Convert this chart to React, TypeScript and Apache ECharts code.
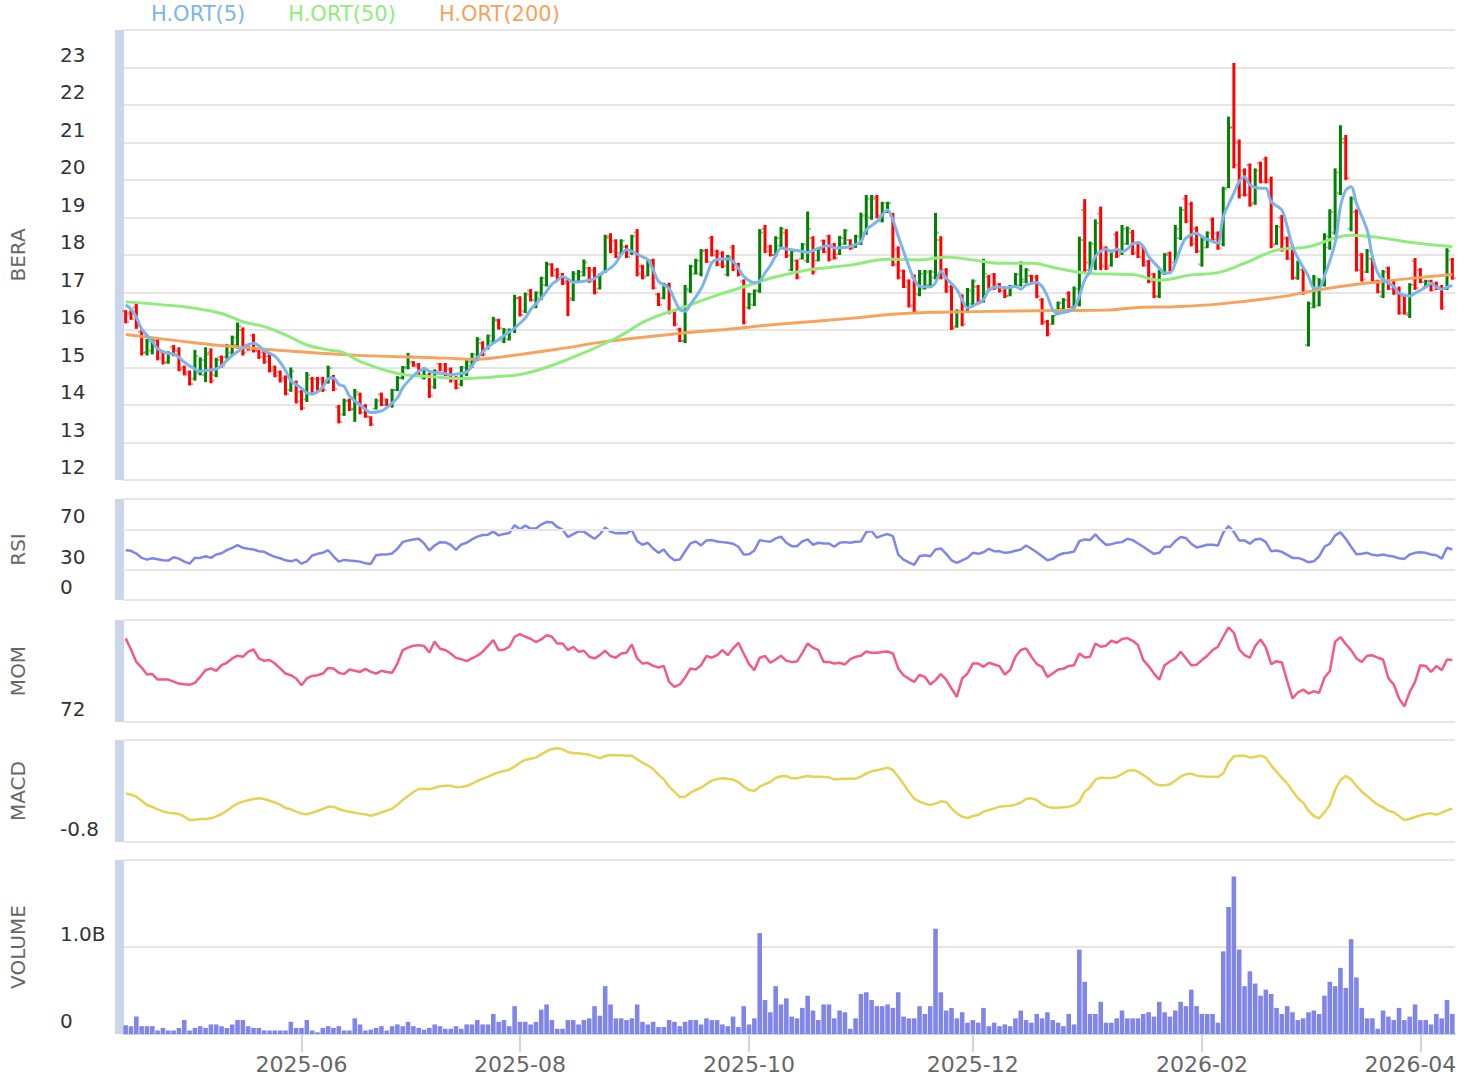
import React, { useEffect, useRef } from 'react';
import * as echarts from 'echarts';

const FONT = '"DejaVu Sans", Verdana, sans-serif';

// trading calendar (BIST), first and last session and closed days
const FIRST_DAY = '2025-04-11';
const LAST_DAY = '2026-04-09';
const CLOSED = ['2025-04-23', '2025-05-01', '2025-05-19', '2025-06-06', '2025-06-09', '2025-07-15', '2025-10-29', '2025-12-31', '2026-01-01', '2026-03-20'];

function tradingDays(): string[] {
  const out: string[] = [];
  const d = new Date(FIRST_DAY + 'T00:00:00Z');
  const end = new Date(LAST_DAY + 'T00:00:00Z');
  while (d <= end) {
    const wd = d.getUTCDay();
    const s = d.toISOString().slice(0, 10);
    if (wd !== 0 && wd !== 6 && CLOSED.indexOf(s) < 0) out.push(s);
    d.setUTCDate(d.getUTCDate() + 1);
  }
  return out;
}
const DATES = tradingDays();

const OPEN = [16.5,16.45,16.6,15.95,15.4,15.45,15.7,15.4,15.15,15.55,15.45,15.0,14.88,14.7,14.85,14.8,15.4,14.8,15.28,15.28,15.4,15.6,16.0,15.6,15.85,15.45,15.4,15.3,15.0,14.88,14.72,14.4,14.6,14.35,14.15,14.7,14.7,14.7,14.6,14.75,13.95,13.75,14.12,13.9,14.28,13.98,13.68,13.9,14.28,14.15,14.0,14.4,14.72,15.0,15.15,15.08,14.72,14.8,14.48,15.1,15.08,14.95,14.72,14.55,14.82,15.05,15.25,15.65,15.5,15.7,16.25,15.7,15.75,16.0,16.85,16.5,17.05,16.62,16.85,17.2,17.75,17.6,17.48,17.3,16.85,17.3,17.45,17.65,17.6,17.1,17.55,18.5,18.38,18.05,18.22,18.05,18.6,17.7,17.45,17.85,16.95,16.85,17.2,16.5,16.02,15.7,17.05,17.5,17.5,18.12,18.45,18.1,18.05,17.48,18.2,17.75,17.3,16.6,16.68,17.05,18.7,18.22,18.0,18.25,18.6,17.6,17.85,17.9,17.85,18.45,17.85,18.38,18.5,18.28,18.02,18.3,18.4,18.2,18.3,18.6,19.0,19.55,18.9,19.15,19.05,18.15,17.58,17.3,17.4,16.95,17.1,17.2,17.4,18.4,17.6,17.15,16.1,16.9,16.5,16.7,17.15,16.78,17.42,17.48,17.22,17.12,16.92,17.15,17.2,17.28,17.45,17.42,16.8,16.22,16.15,16.42,16.56,16.98,16.58,16.7,19.2,17.6,17.7,19.1,18.2,17.72,18.55,18.05,18.3,18.6,18.32,18.2,17.82,17.48,16.9,17.5,18.05,17.8,18.45,19.5,19.35,18.7,17.75,18.2,18.95,18.58,18.3,19.8,21.4,21.0,20.25,20.4,19.4,20.45,20.55,20.0,18.3,19.0,18.45,18.2,17.38,17.6,15.6,16.6,16.65,17.2,18.2,18.6,19.65,21.1,18.7,19.15,18.0,17.55,17.9,17.3,16.9,17.65,17.3,17.1,16.9,16.4,17.85,17.6,17.14,17.3,17.25,17.15,17.1,17.88];
const CLOSE = [16.22,16.3,16.1,15.4,15.7,15.72,15.25,15.12,15.38,15.35,14.95,14.82,14.56,15.3,15.2,15.35,14.65,15.2,15.05,15.58,15.8,16.1,15.4,15.47,15.45,15.28,15.15,14.92,14.78,14.65,14.3,14.9,14.1,13.92,14.8,14.3,14.4,14.4,14.98,14.42,13.55,14.1,13.88,14.35,13.8,13.7,13.48,14.12,14.0,14.0,14.4,14.72,15.0,15.3,15.05,14.8,14.95,14.25,14.9,14.92,14.8,14.65,14.45,15.0,15.15,15.35,15.75,15.35,15.85,16.28,16.05,16.0,16.0,16.85,16.4,16.95,16.8,17.0,17.38,17.75,17.45,17.38,17.25,16.8,17.5,17.55,17.8,17.3,17.0,17.48,18.45,18.1,17.95,18.38,17.95,18.5,17.5,17.4,17.85,17.12,16.68,17.2,16.48,16.15,15.72,17.1,17.7,17.85,18.1,17.82,18.0,17.75,17.7,17.95,17.62,17.48,16.2,16.95,17.05,18.6,18.1,18.0,18.45,18.7,17.98,18.1,17.4,18.28,18.7,17.55,18.15,18.08,17.88,17.92,18.45,18.65,18.17,18.5,19.05,19.5,19.5,19.05,19.38,19.38,17.75,17.4,17.15,16.65,16.5,17.5,17.55,17.55,18.6,17.4,17.05,16.05,16.5,16.15,17.05,17.3,16.72,17.5,17.08,17.12,17.05,16.9,17.15,17.48,17.35,17.6,17.28,16.9,16.2,15.9,16.38,16.72,16.8,16.62,17.1,18.4,17.8,18.3,18.85,17.7,17.65,18.1,17.98,18.7,18.7,18.05,17.95,17.72,17.3,16.9,17.55,18.0,17.6,18.7,19.2,18.9,18.3,18.1,18.4,18.58,18.42,18.18,19.75,21.4,20.4,19.6,19.6,19.35,20.25,19.95,19.95,18.25,18.75,18.15,17.9,17.4,17.8,17.0,16.7,17.4,17.3,18.5,19.15,20.2,21.0,20.05,19.5,17.6,17.35,18.1,17.3,17.02,17.55,17.1,16.98,16.45,16.45,17.2,17.12,17.28,17.3,17.06,17.1,16.6,18.1,17.38];
const LOW = [16.18,16.27,16.03,15.32,15.32,15.35,15.19,15.08,15.1,15.3,14.9,14.79,14.52,14.65,14.79,14.61,14.58,14.74,15.0,15.23,15.32,15.5,15.32,15.45,15.4,15.23,15.1,14.87,14.74,14.6,14.26,14.35,14.04,13.86,14.08,14.26,14.35,14.35,14.57,14.37,13.51,13.71,13.84,13.55,13.75,13.66,13.44,13.88,13.97,13.97,13.93,14.37,14.68,14.95,15.02,14.77,14.68,14.19,14.43,14.9,14.77,14.6,14.42,14.5,14.77,14.99,15.17,15.3,15.48,15.65,16.01,15.65,15.72,15.92,16.36,16.45,16.76,16.58,16.8,17.16,17.42,17.34,17.2,16.37,16.77,17.26,17.43,17.26,16.95,17.08,17.52,18.05,17.92,18.0,17.92,18.0,17.43,17.35,17.43,17.08,16.64,16.82,16.42,16.1,15.68,15.65,16.99,17.48,17.43,17.79,17.96,17.7,17.65,17.43,17.57,17.43,16.15,16.55,16.64,16.99,18.05,17.96,17.95,18.2,17.92,17.57,17.35,17.88,17.79,17.48,17.83,18.05,17.83,17.88,18.0,18.27,18.14,18.19,18.27,18.54,18.94,18.98,18.87,19.12,17.7,17.35,17.12,16.6,16.46,16.9,17.08,17.17,17.35,17.35,16.99,16.0,16.06,16.1,16.46,16.64,16.68,16.73,17.03,17.07,17.0,16.85,16.9,17.12,17.16,17.25,17.25,16.85,16.14,15.83,16.14,16.4,16.54,16.58,16.54,16.63,17.52,17.52,17.6,17.6,17.6,17.69,17.92,18.0,18.27,18.0,17.92,17.69,17.25,16.85,16.85,17.47,17.56,17.78,18.4,18.85,18.23,18.05,17.69,18.18,18.38,18.14,18.23,19.78,20.31,19.51,19.56,19.29,19.34,19.91,19.91,18.18,18.27,18.09,17.87,17.34,17.34,16.94,15.56,16.58,16.63,17.16,18.14,18.54,19.6,20.0,18.63,17.56,17.29,17.52,17.25,16.98,16.85,17.07,16.94,16.41,16.41,16.32,17.07,17.25,17.12,17.03,17.07,16.54,17.07,17.34];
const HIGH = [16.53,16.53,16.73,16.0,15.76,15.8,15.79,15.45,15.43,15.6,15.54,15.05,14.92,15.47,15.27,15.54,15.51,15.26,15.32,15.63,15.85,16.2,16.07,15.63,15.9,15.5,15.45,15.36,15.05,14.92,14.79,15.0,14.65,14.4,14.88,14.75,14.75,14.75,15.05,14.8,14.0,14.17,14.17,14.43,14.33,14.02,13.7,14.17,14.33,14.17,14.43,14.77,15.04,15.39,15.17,15.12,15.0,14.86,14.95,15.12,15.12,15.0,14.77,15.04,15.21,15.39,15.81,15.7,15.88,16.35,16.3,16.05,16.04,16.94,16.9,17.0,17.09,17.03,17.42,17.82,17.78,17.65,17.52,17.35,17.57,17.6,17.88,17.68,17.68,17.52,18.54,18.58,18.42,18.42,18.27,18.54,18.69,17.74,17.88,17.9,16.99,17.26,17.26,16.55,16.06,17.2,17.74,17.9,18.16,18.16,18.51,18.14,18.1,18.0,18.27,17.79,17.35,16.99,17.08,18.69,18.8,18.27,18.5,18.75,18.69,18.14,17.88,18.32,19.16,18.5,18.19,18.41,18.54,18.32,18.51,18.69,18.42,18.54,19.13,19.6,19.6,19.6,19.42,19.42,19.12,18.23,17.61,17.35,17.48,17.6,17.6,17.6,19.12,18.5,17.65,17.2,16.55,16.95,17.12,17.35,17.2,17.9,17.47,17.52,17.25,17.16,17.2,17.52,17.83,17.65,17.47,17.47,16.85,16.27,16.4,16.76,16.85,17.03,17.16,18.49,19.49,18.36,18.95,19.29,18.23,18.14,18.63,18.8,18.76,18.67,18.36,18.23,17.87,17.52,17.6,18.05,18.09,18.8,19.29,19.6,19.42,18.76,18.49,18.63,19.0,18.63,19.82,21.69,23.12,21.08,20.31,20.44,20.31,20.49,20.62,20.09,18.8,19.07,18.49,18.27,17.85,17.65,16.76,17.47,17.38,18.58,19.22,20.31,21.46,21.2,19.56,19.22,18.05,18.16,17.96,17.34,17.6,17.69,17.34,17.16,16.94,17.25,17.92,17.65,17.34,17.34,17.29,17.2,18.18,17.92];

// moving averages: [session index, value]
const MA5 = [[0,16.67],[1,16.56],[2,16.34],[3,16.03],[5,15.7],[6,15.5],[8,15.37],[9,15.36],[10,15.27],[11,15.14],[13,14.96],[14,14.9],[15,14.92],[17,14.96],[18,15.05],[19,15.19],[20,15.32],[22,15.52],[23,15.61],[24,15.65],[25,15.58],[26,15.45],[28,15.3],[29,15.14],[30,14.92],[31,14.65],[33,14.45],[34,14.32],[35,14.3],[36,14.35],[37,14.48],[38,14.7],[39,14.72],[40,14.55],[41,14.5],[42,14.24],[44,14.0],[45,13.88],[46,13.8],[48,13.84],[49,13.93],[51,14.19],[52,14.46],[54,14.78],[55,14.9],[56,14.96],[57,14.9],[58,14.86],[60,14.84],[61,14.81],[63,14.84],[64,14.88],[65,15.04],[66,15.26],[68,15.55],[69,15.65],[70,15.74],[71,15.85],[73,16.05],[74,16.18],[75,16.32],[76,16.54],[78,16.85],[79,17.03],[80,17.22],[81,17.32],[82,17.43],[83,17.36],[84,17.27],[86,17.3],[88,17.37],[89,17.48],[91,17.65],[92,17.79],[93,18.01],[94,18.14],[95,18.1],[97,17.95],[98,17.88],[99,17.61],[100,17.3],[102,17.1],[103,16.81],[104,16.55],[105,16.5],[106,16.68],[108,17.1],[109,17.43],[110,17.79],[111,17.88],[113,17.9],[114,17.83],[115,17.65],[116,17.43],[118,17.26],[119,17.3],[120,17.52],[121,17.72],[122,17.98],[123,18.19],[124,18.16],[126,18.12],[128,18.07],[129,18.12],[131,18.23],[132,18.25],[133,18.19],[135,18.2],[136,18.23],[138,18.36],[139,18.67],[141,18.89],[142,19.07],[143,19.2],[144,18.94],[145,18.5],[146,18.1],[147,17.7],[148,17.35],[149,17.17],[151,17.15],[152,17.26],[153,17.57],[154,17.39],[156,17.08],[157,16.81],[158,16.59],[159,16.64],[161,16.81],[162,17.08],[163,17.14],[164,17.15],[165,17.12],[167,17.16],[168,17.09],[169,17.2],[171,17.27],[172,17.16],[173,16.9],[174,16.54],[175,16.45],[177,16.5],[178,16.58],[179,16.9],[180,17.34],[181,17.56],[182,17.96],[184,18.16],[185,18.09],[186,18.16],[187,18.09],[188,18.16],[189,18.3],[190,18.33],[191,18.23],[192,17.96],[194,17.65],[195,17.52],[196,17.52],[197,17.78],[198,18.18],[199,18.45],[201,18.58],[202,18.49],[204,18.36],[205,18.32],[206,19.02],[208,19.65],[209,19.96],[210,20.09],[211,19.87],[213,19.78],[214,19.78],[215,19.42],[217,19.2],[218,18.76],[219,18.23],[220,17.92],[222,17.43],[223,17.12],[224,17.12],[225,17.43],[227,18.32],[228,19.29],[229,19.73],[230,19.82],[231,19.38],[233,18.67],[234,17.96],[235,17.52],[236,17.34],[238,17.16],[239,16.98],[241,16.91],[242,16.98],[244,17.14],[245,17.25],[246,17.14],[247,17.09],[248,17.14],[249,17.19]];
const MA50 = [[0,16.75],[7,16.67],[13,16.58],[18,16.44],[22,16.22],[26,16.09],[30,15.87],[34,15.6],[38,15.47],[41,15.39],[44,15.16],[51,14.84],[57,14.76],[63,14.71],[70,14.76],[75,14.84],[82,15.16],[92,15.78],[98,16.27],[105,16.62],[111,16.93],[118,17.24],[121,17.38],[128,17.6],[136,17.73],[143,17.89],[149,17.87],[154,17.94],[159,17.87],[164,17.78],[170,17.78],[175,17.64],[181,17.51],[189,17.48],[194,17.33],[200,17.47],[205,17.53],[210,17.78],[216,18.13],[222,18.22],[230,18.53],[235,18.47],[241,18.34],[249,18.22]];
const MA200 = [[0,15.88],[10,15.71],[20,15.56],[40,15.35],[60,15.25],[66,15.22],[71,15.29],[82,15.51],[90,15.69],[104,15.91],[113,16.02],[123,16.16],[136,16.31],[146,16.44],[159,16.49],[175,16.52],[184,16.53],[190,16.6],[197,16.62],[205,16.69],[217,16.89],[223,17.05],[230,17.2],[238,17.33],[246,17.44],[249,17.48]];

const RSI = [49.3,48.7,46,41.7,40,41.3,40.3,39.3,39,42.3,41,38,36,41.7,41.7,43.3,41.7,45,46.3,49.3,51.7,54.3,51.7,50.7,50,48.3,47.7,45,42.7,41.3,39.3,38.3,40,36,38.3,44,45.7,46.7,49.3,43.3,38,39.7,39,38.7,38,36.3,35.7,44.3,45,45,46,50.7,57.3,59,60,60.7,56,49,54,57.3,57,54.7,49.7,55,56.7,60,62.7,64.3,64.7,67.7,64,65.3,66.3,74,70,73.7,70.7,70.7,74.7,77.3,77,72.3,69.7,62.3,65.3,68,67.7,64,60.7,65,71.7,67.7,66,66.3,66,69.3,58.3,54.7,56.7,51,46.7,50,43.3,39.3,40,48.3,56,58,54,59,59.3,58,57.3,56.7,55.7,52.7,45,45.3,49,59.3,58.3,57.7,61,62.7,56.7,53.3,53.3,58,60,54.7,56.7,56,56,52.7,56.7,57.3,56.7,57.7,58,67.3,68.3,61.7,63.7,65.3,63.3,45,40,37.3,34.7,43.3,44.3,43.3,50,51,45.7,39.3,36.7,39.3,41.7,46.7,45.7,47.3,50.7,48.3,48.3,46.7,47.3,48.7,50,54,50.7,47.3,43.3,39.3,40.7,44.3,46.3,46.7,48,58.3,60,59.3,65,59.3,54.7,55.3,56.7,57.3,60.7,59.3,56,52.7,49,45.7,46.7,52.7,52.7,58.3,62.3,61.3,55.7,52,53.3,54.7,54.7,54,66.7,73.3,67.3,59,59,55.7,60,60.7,57.3,48.3,49,47.7,44.7,41.7,41.7,40,37.3,38.3,43.3,52.7,55.7,64,67,60.7,52.7,45.3,45.7,46.7,44.7,44,45,43.7,43,41.3,40.7,45,46.7,47.3,46.7,45,44.3,41,51.7,50];
const MOM = [117.9,111.8,105,101.9,98.1,98.3,95.3,95.3,95.3,94.2,93.1,92.7,92.4,93.5,96.8,100.5,101.4,100.1,103.2,104.5,106.9,108.4,107.8,110.6,111.8,106.9,105.6,106,104.1,101.4,98.6,97.7,95.9,92.2,95.9,97.3,97.7,98.6,101.7,101.4,99,98.3,100.8,100.1,99.5,101.2,99.5,98.6,100.1,99.5,99,104.1,111.5,112.8,113.9,114.2,113.7,110.2,116.1,112.2,111.5,109.6,107.2,106.5,105.4,106.9,108.4,110.6,113.7,117,111.5,111.7,113.3,118.8,120.3,118.8,117.7,115.9,117.3,119.6,118.8,115.1,115.1,111.5,113.3,110.6,111.1,107.8,106.9,108.7,111.1,108.2,107.3,109.6,110,114.6,106.9,104.1,104.5,102.8,101.9,102.8,94,91.3,92.6,96.4,101.4,100.8,103.2,108.2,107.3,108.7,111.5,108.7,112.4,115.5,109.6,103.8,100.5,107.3,108.2,104.5,106.3,108.4,105.6,105,105.2,110,115.1,112.8,111.5,105,105,104.1,104.5,103.6,106.5,107.8,108.4,110.7,110,110,110.4,110.7,109.6,101.4,97.7,95.7,94,97.9,96.8,92.6,95,98.3,95.3,90.4,85.8,95.9,98.6,104.1,104.1,102.3,104.5,103.6,102.7,98.1,100.5,107.8,111.5,112.4,107.8,103.8,102.3,96.8,98.6,100.8,101.2,102.8,103.2,109.6,107.4,107.8,115.1,113.3,113.9,116.6,115.5,117.5,118.1,116.6,114.2,106,102.7,98.6,95.3,103.2,105.2,106.9,110.6,107,103.2,103.4,106,108.4,111.5,113.3,118.8,124,121,111.8,108.7,107.3,113.7,117.3,112.9,103.8,105.4,104.7,94.6,84.9,88.2,89.8,87.6,88.9,88,96.4,99.9,116.1,118.6,114.8,111.5,106.9,105,108.4,108.6,107.3,106.3,95.9,92.7,84.9,80.6,88.5,94,103.2,102.8,99.5,102.7,100.5,106.3,106];
const MACD = [0.154,0.128,0.089,0.01,-0.074,-0.114,-0.159,-0.199,-0.225,-0.238,-0.251,-0.303,-0.369,-0.362,-0.349,-0.349,-0.336,-0.297,-0.251,-0.186,-0.107,-0.048,-0.009,0.017,0.043,0.056,0.043,0.01,-0.022,-0.068,-0.133,-0.159,-0.205,-0.244,-0.257,-0.225,-0.192,-0.153,-0.107,-0.107,-0.153,-0.186,-0.205,-0.225,-0.244,-0.257,-0.284,-0.257,-0.218,-0.186,-0.146,-0.068,0.024,0.102,0.18,0.239,0.246,0.233,0.265,0.292,0.305,0.305,0.272,0.278,0.298,0.344,0.396,0.442,0.481,0.527,0.566,0.592,0.618,0.677,0.756,0.808,0.834,0.854,0.919,0.978,1.024,1.037,1.017,0.965,0.939,0.939,0.926,0.913,0.873,0.841,0.887,0.906,0.9,0.9,0.893,0.893,0.821,0.756,0.703,0.631,0.52,0.429,0.285,0.187,0.082,0.089,0.167,0.22,0.265,0.337,0.403,0.435,0.448,0.442,0.422,0.376,0.285,0.22,0.2,0.285,0.337,0.376,0.455,0.488,0.494,0.448,0.448,0.475,0.494,0.481,0.481,0.475,0.468,0.429,0.435,0.442,0.442,0.442,0.481,0.546,0.586,0.605,0.631,0.658,0.612,0.481,0.337,0.187,0.05,-0.009,-0.048,-0.074,-0.048,-0.003,-0.016,-0.14,-0.238,-0.303,-0.329,-0.29,-0.271,-0.205,-0.173,-0.146,-0.107,-0.094,-0.088,-0.068,-0.029,0.043,0.056,0.024,-0.061,-0.107,-0.127,-0.127,-0.12,-0.107,-0.081,-0.009,0.187,0.272,0.422,0.461,0.455,0.455,0.475,0.533,0.592,0.612,0.579,0.514,0.442,0.35,0.311,0.311,0.331,0.403,0.481,0.527,0.54,0.501,0.488,0.481,0.481,0.475,0.546,0.756,0.88,0.893,0.893,0.854,0.873,0.893,0.854,0.703,0.579,0.455,0.35,0.2,0.063,-0.029,-0.186,-0.29,-0.336,-0.218,-0.074,0.22,0.416,0.494,0.429,0.298,0.187,0.102,0.01,-0.068,-0.12,-0.186,-0.218,-0.29,-0.369,-0.349,-0.31,-0.277,-0.251,-0.238,-0.264,-0.225,-0.179,-0.14];
// volume in billions of shares
const VOLUME = [0.10,0.09,0.20,0.09,0.09,0.09,0.04,0.07,0.04,0.04,0.07,0.16,0.04,0.07,0.09,0.07,0.11,0.11,0.09,0.07,0.11,0.16,0.16,0.09,0.07,0.07,0.04,0.04,0.04,0.04,0.04,0.14,0.07,0.07,0.16,0.04,0.02,0.07,0.09,0.07,0.09,0.04,0.04,0.18,0.11,0.04,0.05,0.07,0.09,0.04,0.09,0.11,0.09,0.14,0.09,0.07,0.05,0.07,0.11,0.09,0.06,0.06,0.09,0.06,0.11,0.11,0.16,0.11,0.11,0.23,0.14,0.16,0.09,0.32,0.14,0.14,0.11,0.14,0.28,0.34,0.16,0.06,0.06,0.16,0.16,0.11,0.16,0.18,0.32,0.21,0.55,0.34,0.18,0.18,0.16,0.18,0.34,0.14,0.11,0.14,0.08,0.08,0.16,0.14,0.09,0.14,0.16,0.16,0.11,0.18,0.16,0.16,0.11,0.09,0.20,0.08,0.32,0.11,0.18,1.16,0.39,0.25,0.55,0.34,0.41,0.20,0.18,0.30,0.44,0.27,0.16,0.34,0.34,0.18,0.27,0.25,0.06,0.18,0.46,0.48,0.39,0.32,0.32,0.34,0.30,0.48,0.20,0.18,0.18,0.32,0.23,0.32,1.21,0.48,0.27,0.30,0.18,0.25,0.13,0.16,0.13,0.30,0.09,0.13,0.09,0.11,0.09,0.18,0.27,0.16,0.13,0.23,0.18,0.25,0.16,0.13,0.09,0.23,0.11,0.97,0.60,0.23,0.23,0.37,0.13,0.13,0.18,0.27,0.18,0.18,0.18,0.23,0.25,0.20,0.37,0.25,0.20,0.27,0.37,0.32,0.51,0.32,0.23,0.23,0.23,0.13,0.95,1.46,1.81,0.97,0.55,0.72,0.58,0.44,0.51,0.46,0.30,0.23,0.32,0.25,0.16,0.18,0.25,0.27,0.23,0.44,0.60,0.55,0.76,0.53,1.09,0.65,0.30,0.18,0.18,0.06,0.27,0.20,0.16,0.30,0.16,0.20,0.34,0.16,0.16,0.11,0.23,0.18,0.39,0.23];

const RSI_LINES = [0, 30, 70, 100];
const MOM_LINES = [72, 128];
const MACD_LINES = [-0.8, 1.2];

const GRID_LEFT = 123;
const GRID_RIGHT = 16;
const GRIDS = [
  { top: 30, height: 450 },
  { top: 499, height: 101 },
  { top: 620, height: 102 },
  { top: 740, height: 102 },
  { top: 860, height: 174 },
];

function isTick(index: number): boolean {
  if (index <= 0) return false;
  const m = DATES[index].slice(5, 7);
  const pm = DATES[index - 1].slice(5, 7);
  return m !== pm && parseInt(m, 10) % 2 === 0;
}

function buildOption(): any {
  const grid = GRIDS.map((g) => ({ left: GRID_LEFT, right: GRID_RIGHT, top: g.top, height: g.height }));
  const xAxis = GRIDS.map((_, k) => ({
    type: 'category',
    gridIndex: k,
    data: DATES,
    boundaryGap: true,
    axisLine: { show: k === 4, lineStyle: { color: '#ccd6eb', width: 2 } },
    axisTick: { show: k === 4, interval: (i: number) => isTick(i), alignWithLabel: true, length: 18, lineStyle: { color: '#ccd6eb', width: 2 } },
    axisLabel: {
      show: k === 4,
      interval: (i: number) => isTick(i),
      margin: 19,
      color: '#666666',
      fontSize: 22,
      fontFamily: FONT,
      formatter: (v: string) => (v.slice(0, 7) === '2026-04' ? '{r|' + v.slice(0, 7) + '}' : v.slice(0, 7)),
      rich: { r: { fontSize: 22, fontFamily: FONT, color: '#666666', padding: [0, 20, 0, 0] } },
    },
    splitLine: { show: false },
  }));
  const yBase = (k: number, name: string) => ({
    type: 'value',
    gridIndex: k,
    position: 'left',
    offset: 4,
    name,
    nameLocation: 'middle',
    nameRotate: 90,
    nameGap: 91,
    nameTextStyle: { color: '#666666', fontSize: 20, fontFamily: FONT },
    axisLine: { show: true, onZero: false, lineStyle: { color: '#ccd6eb', width: 9, cap: 'butt' } },
    axisTick: { show: false },
    axisLabel: { align: 'left', margin: 59, verticalAlign: 'bottom', color: '#333333', fontSize: 20, fontFamily: FONT, showMaxLabel: false, padding: [0, 0, 3, 0] },
  });
  const yAxis = [
    { ...yBase(0, 'BERA'), min: 12, max: 24, interval: 1, splitLine: { show: true, lineStyle: { color: '#e6e6e6', width: 2 } } },
    { ...yBase(1, 'RSI'), min: 0, max: 100, interval: 10, splitLine: { show: false },
      axisLabel: { ...yBase(1, '').axisLabel, formatter: (v: number) => (v === 0 || v === 30 || v === 70 ? String(v) : '') } },
    { ...yBase(2, 'MOM'), min: 72, max: 128, interval: 8, splitLine: { show: false },
      axisLabel: { ...yBase(2, '').axisLabel, formatter: (v: number) => (Math.abs(v - 72) < 1e-6 ? '72' : '') } },
    { ...yBase(3, 'MACD'), min: -0.8, max: 1.2, interval: 0.4, splitLine: { show: false },
      axisLabel: { ...yBase(3, '').axisLabel, formatter: (v: number) => (Math.abs(v + 0.8) < 1e-6 ? '-0.8' : '') } },
    { ...yBase(4, 'VOLUME'), min: 0, max: 2, interval: 1, splitLine: { show: true, lineStyle: { color: '#e6e6e6', width: 2 } },
      axisLabel: { ...yBase(4, '').axisLabel, formatter: (v: number) => (v === 0 ? '0' : v === 1 ? '1.0B' : '') } },
  ];

  const frame = (k: number, vals: number[]) => ({
    type: 'line', xAxisIndex: k, yAxisIndex: k, data: [], silent: true, z: 1,
    markLine: { symbol: ['none', 'none'], silent: true, label: { show: false }, animation: false,
      lineStyle: { color: '#e6e6e6', width: 2, type: 'solid' }, data: vals.map((v) => ({ yAxis: v })) },
  });

  const ohlc = DATES.map((_, i) => [i, OPEN[i], CLOSE[i], LOW[i], HIGH[i]]);

  return {
    animation: false,
    backgroundColor: '#ffffff',
    textStyle: { fontFamily: FONT },
    legend: {
      top: 3, left: 145, padding: 0, itemGap: 37, itemWidth: 0, itemHeight: 0, selectedMode: false,
      textStyle: { fontSize: 21, fontFamily: FONT },
      data: [
        { name: 'H.ORT(5)', textStyle: { color: '#7cb5ec' } },
        { name: 'H.ORT(50)', textStyle: { color: '#90ed7d' } },
        { name: 'H.ORT(200)', textStyle: { color: '#f7a35c' } },
      ],
    },
    grid,
    xAxis,
    yAxis,
    series: [
      {
        type: 'custom', name: 'BERA', xAxisIndex: 0, yAxisIndex: 0, z: 2,
        data: ohlc,
        encode: { x: 0, y: [1, 2, 3, 4] },
        renderItem: (params: any, api: any) => {
          const x = api.value(0);
          const o = api.value(1), c = api.value(2), l = api.value(3), h = api.value(4);
          const pt = api.coord([x, h]);
          const pb = api.coord([x, l]);
          const po = api.coord([x, o]);
          const pc = api.coord([x, c]);
          const color = c >= o ? '#008000' : '#ff0000';
          const bw = 3;
          return {
            type: 'group',
            children: [
              { type: 'rect', shape: { x: pt[0] - bw / 2, y: pt[1], width: bw, height: Math.max(1, pb[1] - pt[1]) }, style: { fill: color } },
              { type: 'rect', shape: { x: pt[0] - bw / 2 - 2, y: po[1] - 1, width: 2, height: 2 }, style: { fill: color, opacity: 0.45 } },
              { type: 'rect', shape: { x: pt[0] + bw / 2, y: pc[1] - 1, width: 2, height: 2 }, style: { fill: color, opacity: 0.45 } },
            ],
          };
        },
      },
      { type: 'line', name: 'H.ORT(200)', xAxisIndex: 0, yAxisIndex: 0, z: 3, data: MA200, showSymbol: false, smooth: 0.4, color: '#f7a35c', lineStyle: { width: 3, color: '#f7a35c' } },
      { type: 'line', name: 'H.ORT(50)', xAxisIndex: 0, yAxisIndex: 0, z: 3, data: MA50, showSymbol: false, smooth: 0.4, color: '#90ed7d', lineStyle: { width: 3, color: '#90ed7d' } },
      { type: 'line', name: 'H.ORT(5)', xAxisIndex: 0, yAxisIndex: 0, z: 4, data: MA5, showSymbol: false, smooth: 0.3, color: '#7cb5ec', lineStyle: { width: 3, color: '#7cb5ec' } },
      frame(1, RSI_LINES),
      { type: 'line', name: 'RSI', xAxisIndex: 1, yAxisIndex: 1, z: 3, data: RSI, showSymbol: false, color: '#8085e9', lineStyle: { width: 2.5, color: '#8085e9' } },
      frame(2, MOM_LINES),
      { type: 'line', name: 'MOM', xAxisIndex: 2, yAxisIndex: 2, z: 3, data: MOM, showSymbol: false, color: '#f15c80', lineStyle: { width: 2.5, color: '#f15c80' } },
      frame(3, MACD_LINES),
      { type: 'line', name: 'MACD', xAxisIndex: 3, yAxisIndex: 3, z: 3, data: MACD, showSymbol: false, color: '#e4d354', lineStyle: { width: 2.5, color: '#e4d354' } },
      { type: 'bar', name: 'VOLUME', xAxisIndex: 4, yAxisIndex: 4, z: 3, data: VOLUME, barCategoryGap: '14%', itemStyle: { color: '#8085e9' } },
    ],
  };
}

export default function App() {
  const ref = useRef<HTMLDivElement>(null);
  useEffect(() => {
    if (!ref.current) return;
    const chart = echarts.init(ref.current, null, { renderer: 'svg' });
    chart.setOption(buildOption());
    return () => chart.dispose();
  }, []);
  return <div ref={ref} style={{ position: 'fixed', left: 0, top: 0, width: 1471, height: 1077, background: '#fff' }} />;
}
